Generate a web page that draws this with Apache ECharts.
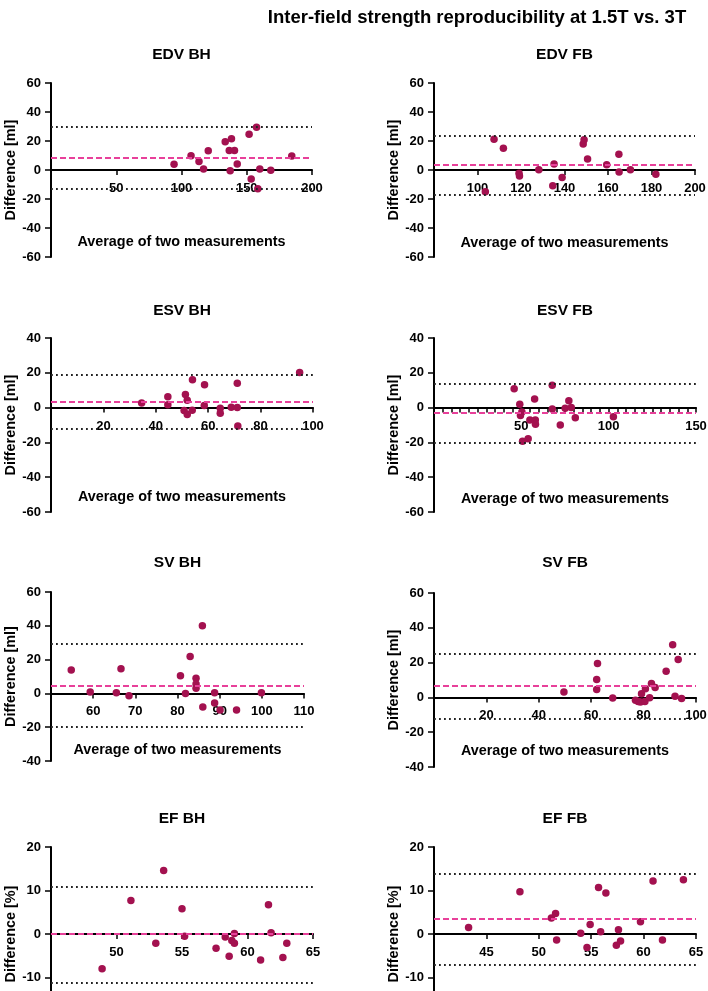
<!DOCTYPE html>
<html>
<head>
<meta charset="utf-8">
<script src="https://cdn.jsdelivr.net/npm/echarts@6/dist/echarts.min.js"></script>
<style>
  html, body { margin: 0; padding: 0; background: #fff; }
  #main { width: 708px; height: 991px; }
</style>
</head>
<body>
<div id="main"></div>
<script>
var panelNames = ["EDV BH", "EDV FB", "ESV BH", "ESV FB", "SV BH", "SV FB", "EF BH", "EF FB"];
var yNames = ["Difference [ml]", "Difference [ml]", "Difference [ml]", "Difference [ml]",
  "Difference [ml]", "Difference [ml]", "Difference [%]", "Difference [%]"];

// Bland-Altman points: average of two measurements / difference
var edvBhAvg = [94.3, 107.3, 113.4, 116.9, 120.5, 133.5, 136.6, 138.3, 137.3, 140.6, 142.7, 151.8, 153.4, 157.5, 158.5, 160.0, 168.4, 184.5];
var edvBhDiff = [3.9, 9.9, 5.8, 0.7, 13.2, 19.4, 13.4, 21.5, -0.5, 13.4, 4.2, 24.7, -6.2, 29.5, -12.9, 0.7, -0.2, 9.7];
var edvFbAvg = [103.6, 107.6, 111.9, 119.1, 119.3, 128.2, 134.6, 135.2, 138.9, 148.6, 149.0, 150.6, 159.4, 165.0, 165.1, 170.3, 182.0];
var edvFbDiff = [-15.0, 21.2, 15.0, -2.3, -4.2, 0.2, -10.8, 4.2, -5.1, 18.0, 20.8, 7.6, 3.7, 10.8, -1.4, 0.2, -3.0];
var esvBhAvg = [34.6, 44.6, 44.6, 51.3, 52.0, 50.8, 52.0, 53.9, 54.0, 58.6, 58.5, 64.6, 64.6, 68.8, 71.1, 71.1, 71.3, 94.9];
var esvBhDiff = [2.7, 6.2, 1.7, 7.5, 4.2, -1.7, -4.0, -1.5, 16.0, 13.1, 1.2, -0.4, -3.3, 0.2, 14.0, 0.0, -10.6, 20.2];
var esvFbAvg = [45.9, 49.1, 50.3, 49.5, 50.7, 53.9, 54.9, 57.6, 58.0, 58.1, 67.7, 67.7, 72.3, 75.1, 77.2, 78.6, 80.9, 102.7];
var esvFbDiff = [10.8, 1.9, -2.5, -4.6, -19.4, -17.9, -7.1, 5.0, -7.1, -9.6, 12.9, -0.8, -10.0, -0.4, 4.0, 0.0, -5.8, -5.2];
var svBhAvg = [54.8, 59.3, 65.5, 66.6, 68.5, 80.7, 81.9, 83.0, 84.4, 84.4, 84.4, 85.9, 86.0, 88.8, 88.8, 90.1, 94.0, 99.9];
var svBhDiff = [13.8, 0.8, 0.4, 14.6, -1.4, 10.4, 0.0, 21.9, 8.9, 5.5, 3.0, 40.0, -8.1, 0.4, -5.7, -9.8, -9.8, 0.4];
var svFbAvg = [49.6, 62.1, 62.1, 62.4, 68.2, 76.9, 77.9, 78.8, 79.2, 80.5, 80.7, 82.3, 83.0, 84.4, 88.6, 91.1, 92.0, 93.2, 94.5];
var svFbDiff = [3.1, 4.6, 10.3, 19.5, -0.4, -1.7, -2.3, -2.7, 2.1, -2.3, 5.0, -0.2, 8.0, 5.7, 15.1, 30.2, 0.6, 21.8, -0.6];
var efBhAvg = [48.9, 51.1, 53.0, 53.6, 55.0, 55.2, 57.6, 58.3, 58.6, 58.8, 59.0, 59.0, 61.0, 61.6, 61.8, 62.7, 63.0];
var efBhDiff = [-8.0, 7.7, -2.1, 14.6, 5.8, -0.5, -3.3, -0.7, -5.1, -1.5, 0.1, -2.1, -6.0, 6.7, 0.3, -5.4, -2.1];
var efFbAvg = [43.3, 48.2, 51.2, 51.6, 51.7, 54.0, 54.6, 54.9, 55.7, 55.9, 56.4, 57.4, 57.6, 57.8, 59.7, 60.9, 61.8, 63.8];
var efFbDiff = [1.5, 9.7, 3.7, 4.7, -1.4, 0.2, -3.1, 2.2, 10.7, 0.5, 9.4, -2.6, 1.0, -1.6, 2.8, 12.2, -1.4, 12.5];

var avgs = [edvBhAvg, edvFbAvg, esvBhAvg, esvFbAvg, svBhAvg, svFbAvg, efBhAvg, efFbAvg];
var diffs = [edvBhDiff, edvFbDiff, esvBhDiff, esvFbDiff, svBhDiff, svFbDiff, efBhDiff, efFbDiff];

// bias and limits of agreement
var meanDiff = [8.3, 3.4, 3.6, -3.1, 4.7, 6.6, 0.0, 3.4];
var upperLoa = [29.7, 23.5, 19.0, 13.7, 29.1, 25.0, 10.9, 13.8];
var lowerLoa = [-13.1, -16.8, -12.2, -20.0, -19.7, -12.0, -11.1, -7.0];

// axis ticks
var xMin = [0, 80, 0, 0, 50, 0, 45, 40];
var xMax = [200, 200, 100, 150, 110, 100, 65, 65];
var xStep = [50, 20, 20, 50, 10, 20, 5, 5];
var yMin = [-60, -60, -60, -60, -40, -40, -20, -20];
var yMax = [60, 60, 40, 40, 60, 60, 20, 20];
var yStep = [20, 20, 20, 20, 20, 20, 10, 10];

var font = '"Liberation Sans", Arial, Helvetica, sans-serif';
var dotColor = "#a3114f";
var pink = "#e8409a";

var grids = [
  { left: 51, top: 83, width: 261, height: 174 },
  { left: 434, top: 83, width: 261, height: 174 },
  { left: 51, top: 338, width: 262, height: 174 },
  { left: 434, top: 338, width: 262, height: 174 },
  { left: 51, top: 592, width: 253, height: 169 },
  { left: 434, top: 593, width: 262, height: 174 },
  { left: 51, top: 847, width: 262, height: 174 },
  { left: 434, top: 847, width: 262, height: 174 }
];
var xNameGap = [65, 66, 82, 84, 50, 47, 70, 70];
var titleY = [55, 55, 311, 311, 563, 563, 819, 819];

var labelStyle = { color: "#000", fontWeight: "bold", fontSize: 13, fontFamily: font };
var nameStyle = { color: "#000", fontWeight: "bold", fontSize: 14.4, fontFamily: font };
var lineStyle = { color: "#000", width: 2 };

var option = {
  animation: false,
  backgroundColor: "#fff",
  grid: [],
  xAxis: [],
  yAxis: [],
  series: [],
  graphic: [{
    type: "text", x: 477, y: 18,
    style: { text: "Inter-field strength reproducibility at 1.5T vs. 3T", align: "center", verticalAlign: "middle",
      font: "bold 18.5px " + font, fill: "#000" }
  }]
};

for (var i = 0; i < 8; i++) {
  var g = grids[i];
  // lift the x axis (line, ticks, labels, name) up to the zero difference line
  var zeroOffset = -g.height * (0 - yMin[i]) / (yMax[i] - yMin[i]);
  option.grid.push({ left: g.left, top: g.top, width: g.width, height: g.height, containLabel: false, outerBoundsMode: "none" });
  option.xAxis.push({
    type: "value", gridIndex: i, min: xMin[i], max: xMax[i], interval: xStep[i],
    position: "bottom", offset: zeroOffset,
    name: "Average of two measurements", nameLocation: "middle", nameGap: xNameGap[i], nameTextStyle: nameStyle,
    axisLine: { show: true, onZero: false, lineStyle: lineStyle },
    axisTick: { show: true, length: 5, lineStyle: { color: "#000", width: 1.5 } },
    minorTick: { show: i === 3, splitNumber: 10, length: 5, lineStyle: { color: "#000", width: 1.5 } },
    axisLabel: Object.assign({ margin: 12, showMinLabel: false }, labelStyle),
    splitLine: { show: false }
  });
  option.yAxis.push({
    type: "value", gridIndex: i, min: yMin[i], max: yMax[i], interval: yStep[i],
    name: yNames[i], nameLocation: "middle", nameGap: 33, nameRotate: 90, nameTextStyle: nameStyle,
    axisLine: { show: true, onZero: false, lineStyle: lineStyle },
    axisTick: { show: true, length: 6, lineStyle: { color: "#000", width: 1.5 } },
    axisLabel: Object.assign({ margin: 10 }, labelStyle),
    splitLine: { show: false }
  });
  option.series.push({
    type: "line", xAxisIndex: i, yAxisIndex: i, data: [], z: 1, silent: true,
    markLine: {
      silent: true, symbol: "none", label: { show: false }, animation: false,
      data: [
        { yAxis: upperLoa[i], lineStyle: { color: "#222", width: 1.8, type: [1.8, 3.2] } },
        { yAxis: lowerLoa[i], lineStyle: { color: "#222", width: 1.8, type: [1.8, 3.2] } },
        { yAxis: meanDiff[i], lineStyle: { color: pink, width: 2, type: [6, 3] } }
      ]
    }
  });
  option.series.push({
    type: "scatter", xAxisIndex: i, yAxisIndex: i, z: 3, symbolSize: 7.5,
    itemStyle: { color: dotColor, opacity: 1 },
    data: avgs[i].map(function (v, k) { return [v, diffs[i][k]]; })
  });
  option.graphic.push({
    type: "text", x: g.left + g.width / 2, y: titleY[i],
    style: { text: panelNames[i], align: "center", verticalAlign: "middle", font: "bold 15.5px " + font, fill: "#000" }
  });
}

var myChart = echarts.init(document.getElementById("main"));
myChart.setOption(option);
</script>
</body>
</html>
